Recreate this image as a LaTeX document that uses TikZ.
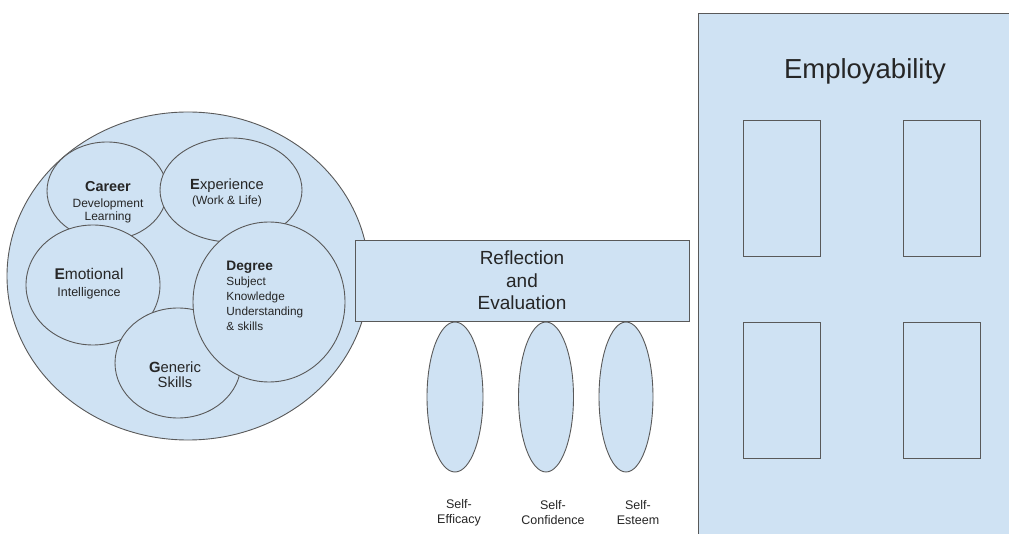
\documentclass[tikz,border=0pt]{standalone}
\usepackage{fontspec}
\setmainfont{Liberation Sans}
\usetikzlibrary{positioning}
\usetikzlibrary{shapes.geometric}

\definecolor{paleblue}{HTML}{CFE2F3}
\definecolor{edgegray}{HTML}{595959}

\begin{document}
\begin{tikzpicture}[
    x=1pt,y=-1pt,
    line width=0.9pt,
    bubble/.style={
        draw=edgegray,
        ellipse,
        fill=paleblue,
        inner sep=0pt
    },
    panel/.style={
        draw=edgegray,
        rectangle,
        fill=paleblue,
        inner sep=0pt,
        align=center,
        text=black!85
    },
    slot/.style={
        draw=edgegray,
        rectangle,
        fill=paleblue,
        minimum width=77pt,
        minimum height=136pt
    },
    txt/.style={
        align=center,
        text=black!85,
        inner sep=0pt
    },
    small/.style={
        txt,
        font=\fontsize{12.5}{15}\selectfont
    }
]
\clip (0,0) rectangle (1009,534);
\fill[white] (0,0) rectangle (1009,534);

% ====== big circle with its parts ======
\node[bubble, minimum width=362pt, minimum height=328pt] (attrs) at (188,276) {};

\node[bubble, minimum width=120pt, minimum height=98pt]  (career)     at (107,191) {};
\node[bubble, minimum width=142pt, minimum height=104pt] (experience) at (231,190) {};
\node[bubble, minimum width=134pt, minimum height=120pt] (emotional)  at (93,285) {};
\node[bubble, minimum width=126pt, minimum height=110pt] (generic)    at (178,363) {};
\node[bubble, minimum width=152pt, minimum height=160pt] (degree)     at (269,302) {};

\node[txt, font=\fontsize{12}{13}\selectfont] (careerTxt) at (108,202)
    {\fontsize{14.4}{13}\selectfont\textbf{Career}\\[3pt] Development\\ Learning};
\node[txt, font=\fontsize{12}{15}\selectfont] (experienceTxt) at (227,193)
    {\fontsize{14.7}{15}\selectfont\textbf{E}xperience\\ (Work \& Life)};
\node[txt, font=\fontsize{12.5}{17}\selectfont] (emotionalTxt) at (89,284)
    {\fontsize{15.5}{17}\selectfont\textbf{E}motional\\ Intelligence};
\node[txt, align=left, anchor=west, font=\fontsize{11.8}{15}\selectfont] (degreeTxt) at (226,296)
    {\fontsize{13.7}{15}\selectfont\textbf{Degree}\\ Subject\\ Knowledge\\ Understanding\\ \& skills};
\node[txt, font=\fontsize{14.8}{15}\selectfont] (genericTxt) at (175,375)
    {\textbf{G}eneric\\ Skills};

% ====== reflection bar ======
\node[panel, minimum width=334pt, minimum height=81pt,
      font=\fontsize{19}{22.5}\selectfont] (reflect) at (522,280.5)
    {Reflection\\ and\\ Evaluation};

% ====== self ovals under the bar ======
\node[bubble, minimum width=56pt, minimum height=150pt] (efficacy)   at (455,397) {};
\node[bubble, minimum width=55pt, minimum height=150pt] (confidence) at (546,397) {};
\node[bubble, minimum width=54pt, minimum height=150pt] (esteem)     at (626,397) {};

\node[small] (efficacyLbl)   at (459,513) {Self-\\Efficacy};
\node[small] (confidenceLbl) at (553,513) {Self-\\Confidence};
\node[small] (esteemLbl)     at (638,513) {Self-\\Esteem};

% ====== employability panel ======
\node[panel, minimum width=322pt, minimum height=547pt] (employ) at (859,286.5) {};
\node[txt, font=\fontsize{27.5}{30}\selectfont] (employTitle) at (865,71) {Employability};

\node[slot] (slotA) at (782,188.5) {};
\node[slot] (slotB) at (942,188.5) {};
\node[slot] (slotC) at (782,390) {};
\node[slot] (slotD) at (942,390) {};

\end{tikzpicture}
\end{document}
